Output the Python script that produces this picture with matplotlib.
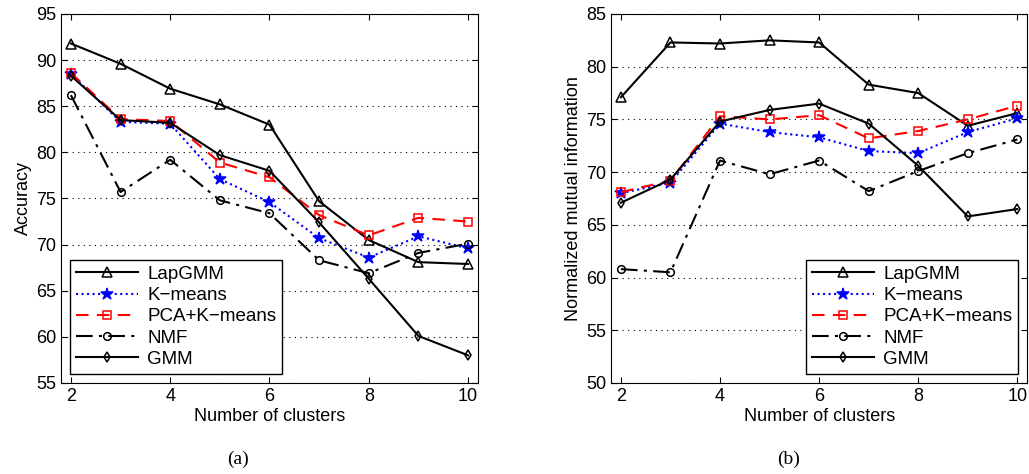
#! /usr/bin/env python3

import matplotlib
matplotlib.use('Agg')
import matplotlib.pyplot as plt
import numpy as np

plt.rcParams['font.family'] = ['Liberation Sans', 'DejaVu Sans']
plt.rcParams['font.size'] = 13

clusters = [2, 3, 4, 5, 6, 7, 8, 9, 10]

# accuracy (a)
acc_lapgmm = [91.8, 89.6, 86.9, 85.2, 83.0, 74.7, 70.5, 68.1, 67.9]
acc_kmeans = [88.5, 83.3, 83.1, 77.1, 74.6, 70.7, 68.6, 70.9, 69.6]
acc_pca = [88.6, 83.6, 83.4, 78.9, 77.3, 73.2, 71.0, 72.9, 72.5]
acc_nmf = [86.2, 75.7, 79.2, 74.8, 73.4, 68.3, 66.9, 69.1, 70.1]
acc_gmm = [88.3, 83.5, 83.2, 79.7, 78.0, 72.4, 66.3, 60.1, 58.0]

# normalized mutual information (b)
nmi_lapgmm = [77.1, 82.3, 82.2, 82.5, 82.3, 78.3, 77.5, 74.4, 75.6]
nmi_kmeans = [68.0, 69.0, 74.6, 73.8, 73.3, 72.0, 71.8, 73.8, 75.1]
nmi_pca = [68.1, 69.2, 75.3, 75.0, 75.4, 73.2, 73.9, 75.0, 76.3]
nmi_nmf = [60.8, 60.5, 71.1, 69.8, 71.1, 68.2, 70.1, 71.8, 73.1]
nmi_gmm = [67.1, 69.3, 74.8, 75.9, 76.5, 74.6, 70.6, 65.8, 66.5]

names = ['LapGMM', 'K\u2212means', 'PCA+K\u2212means', 'NMF', 'GMM']
styles = [
    dict(color='k', ls='-', marker='^', mfc='none', ms=7),
    dict(color='b', ls=':', marker='*', mfc='b', ms=9),
    dict(color='r', ls=(0, (6, 4)), marker='s', mfc='none', ms=5.5),
    dict(color='k', ls=(0, (8, 3, 1.5, 3)), marker='o', mfc='none', ms=5.5),
    dict(color='k', ls='-', marker='d', mfc='none', ms=5.5),
]

fig = plt.figure(figsize=(10.29, 4.74), dpi=100)
ax1 = fig.add_axes([0.0593, 0.192, 0.4052, 0.7785])
ax2 = fig.add_axes([0.5938, 0.192, 0.4045, 0.7785])


def draw(ax, series, ylim, ylabel):
    for vals, name, st in zip(series, names, styles):
        ax.plot(clusters, vals, label=name, lw=1.5, mew=1.1, **st)
    ax.set_xlim(1.8, 10.2)
    ax.set_ylim(*ylim)
    ax.set_xticks([2, 4, 6, 8, 10])
    ax.set_yticks(np.arange(ylim[0], ylim[1] + 1, 5))
    ax.yaxis.grid(True, ls=(0, (1, 4)), color='k', lw=0.8)
    ax.tick_params(direction='in', top=True, right=True, length=4, labelsize=13)
    ax.set_xlabel('Number of clusters', fontsize=13, labelpad=2)
    ax.set_ylabel(ylabel, fontsize=13, labelpad=3)
    leg = ax.legend(loc='lower right', fontsize=13.5, fancybox=False,
                    edgecolor='k', framealpha=1, handlelength=3.3,
                    handletextpad=0.5, borderpad=0.3, labelspacing=0.22,
                    borderaxespad=0.5)
    leg.get_frame().set_linewidth(1.0)


draw(ax1, [acc_lapgmm, acc_kmeans, acc_pca, acc_nmf, acc_gmm], (55, 95),
     'Accuracy')
draw(ax2, [nmi_lapgmm, nmi_kmeans, nmi_pca, nmi_nmf, nmi_gmm], (50, 85),
     'Normalized mutual information')

# legend in (a) sits left of centre
ax1.get_legend().set_bbox_to_anchor((0.0, 0.0, 0.552, 1.0))

fig.text(0.231, 0.03, '(a)', ha='center', va='center', fontsize=14,
         family='Liberation Serif')
fig.text(0.766, 0.03, '(b)', ha='center', va='center', fontsize=14,
         family='Liberation Serif')

fig.savefig('out.png', dpi=100)
